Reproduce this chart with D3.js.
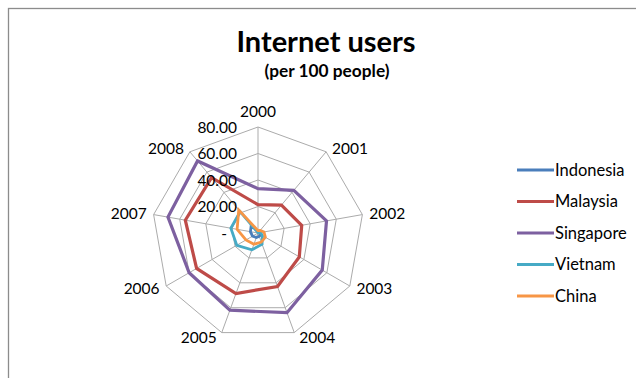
<!DOCTYPE html>
<html>
<head>
<meta charset="utf-8">
<script src="https://cdn.jsdelivr.net/npm/d3@7/dist/d3.min.js"></script>
<style>
  html, body { margin: 0; padding: 0; background: #fff; }
  svg { display: block; }
  text { font-family: Lato, "Open Sans", "DejaVu Sans", sans-serif; fill: #000; }
</style>
</head>
<body>
<svg id="chart" width="636" height="378"></svg>
<script>
// Internet users per 100 people, 2000–2008
const years = ["2000", "2001", "2002", "2003", "2004", "2005", "2006", "2007", "2008"];
const countries = ["Indonesia", "Malaysia", "Singapore", "Vietnam", "China"];
const indonesia = [0.9, 2.0, 2.1, 2.4, 2.6, 3.6, 4.8, 5.8, 7.9];
const malaysia  = [21.4, 27.5, 33.5, 36.0, 43.0, 48.6, 53.5, 55.7, 54.5];
const singapore = [33.5, 42.0, 52.5, 56.0, 64.0, 62.0, 60.0, 69.0, 71.0];
const vietnam   = [0.3, 1.3, 1.9, 3.8, 9.0, 13.5, 18.5, 20.8, 21.0];
const china     = [1.8, 2.6, 4.6, 6.4, 7.3, 9.0, 10.5, 16.0, 22.6];
const tickValues = [0, 20, 40, 60, 80];
const tickLabels = ["-", "20.00", "40.00", "60.00", "80.00"];
const colors = ["#4A7EBB", "#BE4B48", "#7D60A0", "#46AAC5", "#F79646"];

const seriesValues = [indonesia, malaysia, singapore, vietnam, china];

const svg = d3.select("#chart");
const cx = 258, cy = 233, R = 106;

// outer frame
svg.append("rect")
  .attr("x", 8.5).attr("y", 8.5)
  .attr("width", 700).attr("height", 500)
  .attr("fill", "none").attr("stroke", "#8c8c8c").attr("stroke-width", 1.3);

// titles
svg.append("text")
  .attr("x", 326).attr("y", 52)
  .attr("text-anchor", "middle")
  .attr("font-weight", "bold").attr("font-size", 29)
  .text("Internet users");
svg.append("text")
  .attr("x", 327).attr("y", 77)
  .attr("text-anchor", "middle")
  .attr("font-weight", "bold").attr("font-size", 17.3)
  .text("(per 100 people)");

const r = d3.scaleLinear().domain([0, 80]).range([0, R]);
const angle = d3.scalePoint().domain(years).range([0, 2 * Math.PI * (years.length - 1) / years.length]);

const pt = (year, v) => {
  const a = angle(year);
  return [cx + r(v) * Math.sin(a), cy - r(v) * Math.cos(a)];
};

const g = svg.append("g");

// ring polygons
tickValues.filter(v => v > 0).forEach(v => {
  g.append("polygon")
    .attr("points", years.map(y => pt(y, v).join(",")).join(" "))
    .attr("fill", "none").attr("stroke", "#ababab").attr("stroke-width", 1);
});

// spokes
years.forEach(y => {
  const [x2, y2] = pt(y, 80);
  g.append("line")
    .attr("x1", cx).attr("y1", cy).attr("x2", x2).attr("y2", y2)
    .attr("stroke", "#ababab").attr("stroke-width", 1);
});

// category labels around the outer ring
years.forEach(y => {
  const a = angle(y);
  const s = Math.sin(a), c = Math.cos(a);
  const [vx, vy] = pt(y, 80);
  let anchor = "middle", x = vx, yy;
  if (Math.abs(s) < 0.1) {
    yy = vy - c * 16;
  } else {
    anchor = s > 0 ? "start" : "end";
    x = vx + Math.sign(s) * (4 + 3 * Math.abs(s));
    yy = vy - c * 5;
  }
  g.append("text")
    .attr("x", x).attr("y", yy)
    .attr("dy", "0.36em")
    .attr("text-anchor", anchor)
    .attr("font-size", 15.5)
    .text(y);
});

// series lines
const line = d3.line().curve(d3.curveLinearClosed);
seriesValues.forEach((vals, i) => {
  g.append("path")
    .attr("d", line(years.map((y, j) => pt(y, vals[j]))))
    .attr("fill", "none")
    .attr("stroke", colors[i])
    .attr("stroke-width", i === 2 || i === 1 ? 3.2 : 2.8)
    .attr("stroke-linejoin", "miter");
});

// value axis labels, drawn over the lines
tickValues.forEach((v, i) => {
  const [, y] = pt(years[0], v);
  g.append("text")
    .attr("x", cx - 21 - (v === 0 ? 10 : 0)).attr("y", y)
    .attr("dy", "0.36em")
    .attr("text-anchor", "end")
    .attr("font-size", 15.5)
    .text(tickLabels[i]);
});

// legend
const legend = svg.append("g");
countries.forEach((name, i) => {
  const ly = 170 + i * 31.5;
  legend.append("line")
    .attr("x1", 517).attr("x2", 554).attr("y1", ly).attr("y2", ly)
    .attr("stroke", colors[i]).attr("stroke-width", 3);
  legend.append("text")
    .attr("x", 555).attr("y", ly).attr("dy", "0.36em")
    .attr("font-size", 16.5)
    .text(name);
});
</script>
</body>
</html>
